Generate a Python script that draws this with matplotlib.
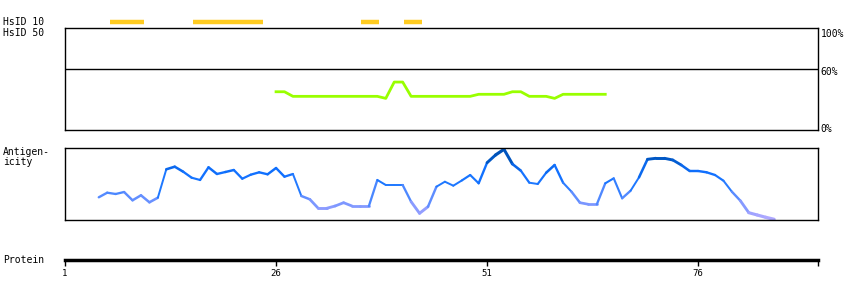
import matplotlib
matplotlib.use('Agg')
import matplotlib.pyplot as plt
import numpy as np
from matplotlib.collections import LineCollection
from matplotlib.colors import LinearSegmentedColormap

# protein length / axis range
x_min, x_max = 1, 90.2
protein_ticks = [1, 26, 51, 76]

# HsID 10 segments (start, end residue)
hsid10_start = [6.3, 16.2, 36.1, 41.1]
hsid10_end = [10.4, 24.4, 38.2, 43.3]

# HsID 50 identity (%)
ident_pos = [26, 27, 28, 29, 30, 31, 32, 33, 34, 35, 36, 37, 38, 39, 40, 41, 42,
             43, 44, 45, 46, 47, 48, 49, 50, 51, 52, 53, 54, 55, 56, 57, 58, 59,
             60, 61, 62, 63, 64, 65]
ident_val = [37.5, 37.5, 33, 33, 33, 33, 33, 33, 33, 33, 33, 33, 33, 31, 47, 47, 33,
             33, 33, 33, 33, 33, 33, 33, 35, 35, 35, 35, 37.5, 37.5, 33, 33, 33, 31,
             35, 35, 35, 35, 35, 35]

# antigenicity (height above panel bottom, 0-72)
anti_pos = list(range(5, 86))
anti_y = [197.3, 192.7, 194, 192, 200.3, 195.3, 202.3, 197.7, 169.3, 166.7,
          171.7, 177.7, 180, 167.3, 174, 172, 170, 178.7, 174.7, 172.3,
          174.3, 168, 176.7, 174, 196, 199.3, 208.3, 208.3, 206, 202.7,
          206, 206, 206, 180, 185, 185, 185, 201.7, 213.3, 206.7,
          186.7, 181.7, 185.7, 180.5, 175, 183.3, 162.7, 155, 149.3, 164,
          170.7, 182.7, 184, 172.7, 165, 182.7, 191.7, 202.7, 204.3, 204.3,
          183.3, 178.3, 198.3, 190.7, 177.3, 159.3, 158.3, 158.3, 160, 165,
          171, 171, 172.3, 175, 180.7, 191.7, 200.7, 212.7, 215, 217.3,
          219.3]
anti_val = [220 - v for v in anti_y]

W, H = 850, 300
fig = plt.figure(figsize=(8.5, 3), dpi=100)
font = dict(family='DejaVu Sans Mono', fontsize=7)


def box(x0, y0, x1, y1):
    return [x0 / W, 1 - y1 / H, (x1 - x0) / W, (y1 - y0) / H]


# HsID 10 bars
ax_top = fig.add_axes(box(65, 18, 818, 26))
ax_top.hlines([0] * len(hsid10_start), hsid10_start, hsid10_end,
              color='#ffcc22', linewidth=3.2)
ax_top.set_xlim(x_min, x_max)
ax_top.set_ylim(-1, 1)
ax_top.axis('off')

# identity panel
ax_id = fig.add_axes(box(65, 28, 818, 130))
ax_id.plot(ident_pos, ident_val, color='#99ff00', linewidth=2)
ax_id.axhline(60, color='black', linewidth=1)
ax_id.set_xlim(x_min, x_max)
ax_id.set_ylim(0, 100)
ax_id.set_xticks([])
ax_id.set_yticks([])
for s in ax_id.spines.values():
    s.set_linewidth(1)
for v, lab, dy in [(100, '100%', -4), (60, '60%', -2), (0, '0%', 1)]:
    ax_id.annotate(lab, (1, v), xycoords=('axes fraction', 'data'),
                   xytext=(2, dy), textcoords='offset points',
                   va='center', ha='left', **font)

# antigenicity panel
ax_ag = fig.add_axes(box(65, 148, 818, 220))
cmap = LinearSegmentedColormap.from_list(
    'ag', ['#b4aaff', '#8c9cff', '#5a8cff', '#1e78ff', '#1070ff', '#0058c8', '#004fae'])
pts = np.column_stack([anti_pos, anti_val])
segs = np.stack([pts[:-1], pts[1:]], axis=1)
mid = (np.array(anti_val[:-1]) + np.array(anti_val[1:])) / 2
lws = 1.4 + 1.0 * np.abs(mid - 36) / 36
lc = LineCollection(segs, colors=cmap(mid / 72), linewidths=lws, capstyle='round')
ax_ag.add_collection(lc)
ax_ag.set_xlim(x_min, x_max)
ax_ag.set_ylim(0, 72)
ax_ag.set_xticks([])
ax_ag.set_yticks([])
for s in ax_ag.spines.values():
    s.set_linewidth(1)

# protein axis
ax_p = fig.add_axes(box(65, 250, 818, 259.5))
for k in ['left', 'right', 'top']:
    ax_p.spines[k].set_visible(False)
ax_p.spines['bottom'].set_linewidth(2.5)
ax_p.set_xlim(x_min, x_max)
ax_p.set_yticks([])
ax_p.set_xticks(protein_ticks + [x_max])
ax_p.set_xticklabels([str(t) for t in protein_ticks] + [''])
ax_p.tick_params(axis='x', length=4, width=1, pad=3, labelsize=6.5)
for t in ax_p.get_xticklabels():
    t.set_family('DejaVu Sans Mono')
ax_p.patch.set_alpha(0)

# left labels
fig.text(3 / W, 1 - 22 / H, 'HsID 10', va='center', ha='left', **font)
fig.text(3 / W, 1 - 33 / H, 'HsID 50', va='center', ha='left', **font)
fig.text(3 / W, 1 - 157 / H, 'Antigen-\nicity', va='center', ha='left',
         linespacing=1.1, **font)
fig.text(3 / W, 1 - 260 / H, 'Protein', va='center', ha='left', **font)

fig.savefig('out.png', dpi=100)
